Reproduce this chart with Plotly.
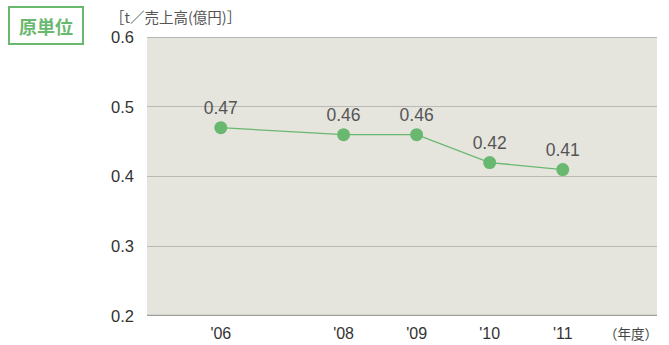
import plotly.graph_objects as go

categories = ["'06", "'08", "'09", "'10", "'11"]
values = [0.47, 0.46, 0.46, 0.42, 0.41]
labels = ["0.47", "0.46", "0.46", "0.42", "0.41"]
x_slots = [0, 1.68, 2.68, 3.68, 4.68]

green = "#69b86f"
font = "Liberation Sans, Arial, sans-serif"
cjk = "Noto Sans CJK JP"

W, H = 669, 345
l, r, t, b = 147, 12, 37, 29
pw, ph = W - l - r, H - t - b


def px(x):
    return (x - l) / pw


def py(y):
    return (H - b - y) / ph


fig = go.Figure()
fig.add_trace(go.Scatter(
    x=x_slots, y=values, mode="lines+markers+text",
    text=labels, textposition="top center",
    textfont=dict(size=17.5, color="#555555", family=font),
    line=dict(color=green, width=1.3),
    marker=dict(color=green, size=13),
    cliponaxis=False, hoverinfo="skip",
))

fig.update_layout(
    width=W, height=H,
    margin=dict(l=l, r=r, t=t, b=b),
    paper_bgcolor="white", plot_bgcolor="#e5e4dd",
    showlegend=False,
    xaxis=dict(range=[-1.01, 5.97], tickvals=x_slots, ticktext=categories,
               showgrid=False, zeroline=False, showline=False,
               tickfont=dict(size=16, color="#333333", family=font),
               ticks="", ticklabelstandoff=6, automargin=False,
               fixedrange=True),
    yaxis=dict(range=[0.2, 0.6], dtick=0.1, tickformat=".1f",
               showgrid=True, gridcolor="#b9b9b4", gridwidth=1.2,
               zeroline=False, showline=False, ticks="",
               ticklabelstandoff=12, automargin=False,
               tickfont=dict(size=16.5, color="#333333", family=font)),
    annotations=[
        dict(text="<b>原単位</b>", x=px(46), y=py(26), xref="paper", yref="paper",
             xanchor="center", yanchor="middle",
             showarrow=False, font=dict(size=18, color=green, family=cjk),
             bordercolor=green, borderwidth=2, borderpad=5,
             bgcolor="white", width=62, height=25),
        dict(text="［t／売上高(億円)］", x=px(108), y=py(16), xref="paper", yref="paper",
             showarrow=False, xanchor="left", yanchor="middle",
             font=dict(size=14.5, color="#555555", family=cjk)),
        dict(text="（年度）", x=px(631), y=py(333), xref="paper", yref="paper",
             showarrow=False, xanchor="center", yanchor="middle",
             font=dict(size=13.5, color="#444444", family=cjk)),
    ],
)

# top and bottom axis lines
fig.add_hline(y=0.6, line=dict(color="#a6a6a2", width=1.5))
fig.add_hline(y=0.2, line=dict(color="#a0a09c", width=2.5))

fig.write_html("out.html")
